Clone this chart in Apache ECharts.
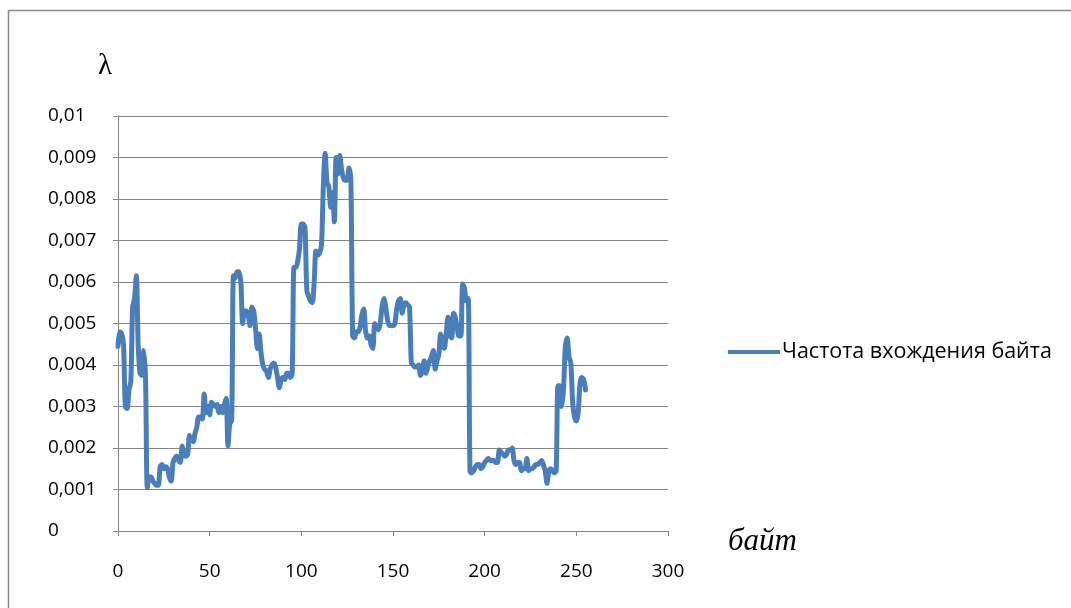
<!DOCTYPE html>
<html>
<head>
<meta charset="utf-8">
<script src="https://cdn.jsdelivr.net/npm/echarts@6/dist/echarts.min.js"></script>
<style>
  html, body { margin: 0; padding: 0; background: #fff; }
  #chart { width: 1071px; height: 608px; }
</style>
</head>
<body>
<div id="chart"></div>
<script>
// Byte frequency λ for each byte value 0..255
const seriesName = 'Частота вхождения байта';

const freq0to63 = [
  0.00445, 0.0048, 0.00475, 0.0045, 0.0030, 0.00295, 0.0034, 0.0036,
  0.0054, 0.0056, 0.00615, 0.0045, 0.0038, 0.00375, 0.00435, 0.0037,
  0.00105, 0.0013, 0.0013, 0.0012, 0.00115, 0.0011, 0.0011, 0.00155,
  0.0016, 0.0015, 0.00155, 0.0015, 0.0013, 0.0012, 0.00165, 0.00175,
  0.0018, 0.0017, 0.00165, 0.00205, 0.00185, 0.0018, 0.00185, 0.0023,
  0.0022, 0.00215, 0.00235, 0.0025, 0.00275, 0.00275, 0.0027, 0.0033,
  0.00285, 0.0030, 0.0028, 0.0031, 0.00305, 0.0030, 0.00305, 0.00285,
  0.0030, 0.00285, 0.00305, 0.0032, 0.00205, 0.0026, 0.00265, 0.00615
];
const freq64to127 = [
  0.0061, 0.00625, 0.00625, 0.0060, 0.0050, 0.0053, 0.0053, 0.0052,
  0.00495, 0.0054, 0.0053, 0.0049, 0.0044, 0.00475, 0.0043, 0.0040,
  0.0039, 0.00385, 0.0037, 0.0039, 0.0040, 0.00405, 0.00395, 0.0037,
  0.00345, 0.00365, 0.0037, 0.00365, 0.0038, 0.0038, 0.0037, 0.0038,
  0.00635, 0.00635, 0.0065, 0.0068, 0.0074, 0.0074, 0.0073, 0.0058,
  0.00565, 0.00555, 0.0055, 0.0060, 0.00675, 0.00665, 0.0067, 0.0069,
  0.0083, 0.0091, 0.0084, 0.0083, 0.0078, 0.00815, 0.00745, 0.0090,
  0.0086, 0.00905, 0.0087, 0.0085, 0.00845, 0.00845, 0.00875, 0.0085
];
const freq128to191 = [
  0.0047, 0.00465, 0.0048, 0.0048, 0.0049, 0.0052, 0.00535, 0.00485,
  0.00465, 0.0047, 0.0045, 0.0044, 0.0050, 0.0049, 0.00485, 0.0050,
  0.0054, 0.0056, 0.0054, 0.0051, 0.00495, 0.00495, 0.00495, 0.0050,
  0.00535, 0.00555, 0.0056, 0.00525, 0.00545, 0.0055, 0.00545, 0.0054,
  0.00405, 0.0040, 0.00395, 0.00395, 0.0040, 0.00375, 0.00385, 0.0041,
  0.0038, 0.00395, 0.0041, 0.0042, 0.00435, 0.0039, 0.0041, 0.00425,
  0.00475, 0.0046, 0.0044, 0.00475, 0.00515, 0.0047, 0.00465, 0.00525,
  0.00515, 0.0049, 0.0047, 0.0047, 0.00595, 0.00585, 0.00555, 0.0056
];
const freq192to255 = [
  0.00145, 0.0014, 0.00145, 0.00155, 0.0016, 0.0016, 0.0015, 0.00155,
  0.00165, 0.0017, 0.00175, 0.0017, 0.0017, 0.0017, 0.00165, 0.00165,
  0.00195, 0.0019, 0.00185, 0.0018, 0.00185, 0.00195, 0.00195, 0.0020,
  0.0017, 0.0016, 0.00165, 0.00165, 0.00145, 0.0015, 0.0015, 0.00175,
  0.00145, 0.0015, 0.0015, 0.00155, 0.0016, 0.0016, 0.00165, 0.0017,
  0.0016, 0.00145, 0.00115, 0.00145, 0.0015, 0.00145, 0.0014, 0.00145,
  0.0035, 0.0035, 0.0030, 0.0034, 0.00445, 0.00465, 0.0042, 0.00405,
  0.0031, 0.00275, 0.00265, 0.00285, 0.00355, 0.0037, 0.00365, 0.0034
];

const frequency = [].concat(freq0to63, freq64to127, freq128to191, freq192to255);
const byteValues = frequency.map((_, i) => i);

const xTicks = { min: 0, max: 300, step: 50 };
const yTicks = { min: 0, max: 0.01, step: 0.001 };

const axisFont = '"Open Sans", "DejaVu Sans", sans-serif';
const axisGray = '#868686';

const chart = echarts.init(document.getElementById('chart'), null, { renderer: 'canvas' });

chart.setOption({
  animation: false,
  backgroundColor: '#ffffff',
  grid: { left: 118, right: 403, top: 116, bottom: 77, containLabel: false },
  xAxis: {
    type: 'value',
    min: xTicks.min, max: xTicks.max, interval: xTicks.step,
    axisLine: { show: true, lineStyle: { color: axisGray, width: 1 } },
    axisTick: { show: true, length: 5, lineStyle: { color: axisGray } },
    splitLine: { show: false },
    axisLabel: {
      margin: 31, color: '#000', fontFamily: axisFont, fontSize: 19
    }
  },
  yAxis: {
    type: 'value',
    min: yTicks.min, max: yTicks.max, interval: yTicks.step,
    axisLine: { show: true, lineStyle: { color: axisGray, width: 1 } },
    axisTick: { show: true, length: 5, lineStyle: { color: axisGray } },
    splitLine: { show: true, lineStyle: { color: axisGray, width: 1 } },
    axisLabel: {
      margin: 70, align: 'left', color: '#000', fontFamily: axisFont, fontSize: 19,
      formatter: v => v === 0 ? '0' : String(+v.toFixed(3)).replace('.', ',')
    }
  },
  legend: {
    left: 723, top: 336, orient: 'vertical', padding: 5,
    itemWidth: 52, itemHeight: 14, itemGap: 10,
    textStyle: { color: '#000', fontFamily: axisFont, fontSize: 21.5, padding: [0, 0, 0, -3] },
    data: [{ name: seriesName, icon: 'path://M0,0 L52,0 L52,4 L0,4 Z' }]
  },
  graphic: [
    {
      type: 'rect', silent: true, z: -10,
      shape: { x: 8.5, y: 10.5, width: 1200, height: 800 },
      style: { fill: 'none', stroke: '#8a8a8a', lineWidth: 1.5 }
    },
    {
      type: 'text', left: 98, top: 52,
      style: { text: 'λ', font: '29px "Liberation Serif", "DejaVu Serif", serif', fill: '#000' }
    },
    {
      type: 'text', left: 728, top: 526,
      style: { text: 'байт', font: 'italic 31px "Liberation Serif", "DejaVu Serif", serif', fill: '#000' }
    }
  ],
  series: [{
    name: seriesName,
    type: 'line',
    data: byteValues.map((b, i) => [b, frequency[i]]),
    showSymbol: false,
    symbol: 'none',
    smooth: 0.3,
    color: '#4a7ebb',
    lineStyle: { color: '#4a7ebb', width: 5, join: 'round', cap: 'round' }
  }]
});
</script>
</body>
</html>
